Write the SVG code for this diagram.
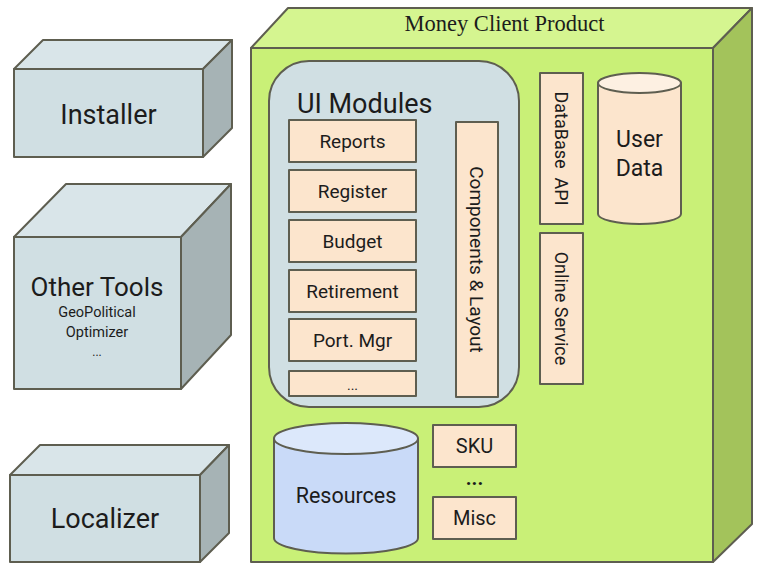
<svg xmlns="http://www.w3.org/2000/svg" width="762" height="575" viewBox="0 0 762 575">
<style>
.s{stroke:#5e5e50;stroke-width:2;stroke-linejoin:round}
.bf{fill:#d0dfe3}.bt{fill:#d9e5e9}.br{fill:#a6b3b5}
.gf{fill:#c9f077}.gt{fill:#d5f590}.gr{fill:#a3c35b}
.pe{fill:#fce5cd}
.t{font-family:Roboto,"Liberation Sans",sans-serif;fill:#1c1c1c;text-anchor:middle}
.m{font-size:19px}
</style>
<rect width="762" height="575" fill="#ffffff"/>
<g id="installer">
<polygon class="s bt" points="14,69 43,40 232,40 203,69"/>
<polygon class="s br" points="203,69 232,40 232,128 203,157"/>
<rect class="s bf" x="14" y="69" width="189" height="88"/>
<text class="t" x="108.5" y="124" font-size="27">Installer</text>
</g>
<g id="other-tools">
<polygon class="s bt" points="14,237 66,184 231,184 181,237"/>
<polygon class="s br" points="181,237 231,184 231,335 181,389"/>
<rect class="s bf" x="14" y="237" width="167" height="152"/>
<text class="t" x="97" y="296" font-size="26">Other Tools</text>
<text class="t" x="97" y="317" font-size="14.5">GeoPolitical</text>
<text class="t" x="97" y="337" font-size="14.5">Optimizer</text>
<text class="t" x="97" y="356" font-size="12">...</text>
</g>
<g id="localizer">
<polygon class="s bt" points="10,475 40,445 229,445 200,475"/>
<polygon class="s br" points="200,475 229,445 229,533 200,562"/>
<rect class="s bf" x="10" y="475" width="190" height="87"/>
<text class="t" x="105" y="528" font-size="27">Localizer</text>
</g>
<g id="money-client-product">
<polygon class="s gt" points="251,48 288,8 752,8 713,48"/>
<polygon class="s gr" points="713,48 752,8 752,524 713,562"/>
<rect class="s gf" x="251" y="48" width="462" height="514"/>
<text x="504.5" y="31" font-family="'Liberation Serif','Times New Roman',serif" font-size="22.5" fill="#1c1c1c" text-anchor="middle">Money Client Product</text>
</g>
<g id="ui-modules">
<rect class="s" x="269" y="61" width="250" height="346" rx="40" ry="40" fill="#d0dfe3"/>
<text class="t" x="297" y="113" font-size="27" text-anchor="start" style="text-anchor:start">UI Modules</text>
</g>
<g id="reports"><rect class="s pe" x="289" y="120" width="127" height="42"/><text class="t m" x="352.5" y="148">Reports</text></g>
<g id="register"><rect class="s pe" x="289" y="170" width="127" height="42"/><text class="t m" x="352.5" y="198">Register</text></g>
<g id="budget"><rect class="s pe" x="289" y="220" width="127" height="42"/><text class="t m" x="352.5" y="248">Budget</text></g>
<g id="retirement"><rect class="s pe" x="289" y="270" width="127" height="42"/><text class="t m" x="352.5" y="298">Retirement</text></g>
<g id="port-mgr"><rect class="s pe" x="289" y="319" width="127" height="42"/><text class="t m" x="352.5" y="347">Port. Mgr</text></g>
<g id="more-modules"><rect class="s pe" x="289" y="371" width="127" height="25"/><text class="t" x="352.5" y="390" font-size="14">...</text></g>
<g id="components-layout"><rect class="s pe" x="456" y="122" width="42" height="275"/><text class="t m" transform="translate(477,259.5) rotate(90)" y="7">Components &amp; Layout</text></g>
<g id="database-api"><rect class="s pe" x="540" y="73" width="43" height="151"/><text class="t" font-size="18" transform="translate(561.5,148.5) rotate(90)" y="6.5" xml:space="preserve" style="white-space:pre">DataBase  API</text></g>
<g id="online-service"><rect class="s pe" x="540" y="233" width="43" height="151"/><text class="t" font-size="18" transform="translate(561.5,308.5) rotate(90)" y="6.5">Online Service</text></g>
<g id="user-data">
<path class="s pe" d="M598,83 L598,214 A41.5,10 0 0 0 681,214 L681,83 Z"/>
<ellipse class="s" cx="639.5" cy="83" rx="41.5" ry="10" fill="#fdf0e2"/>
<text class="t" x="639.5" y="147" font-size="23">User</text>
<text class="t" x="639.5" y="176" font-size="23">Data</text>
</g>
<g id="resources">
<path class="s" d="M274,438.5 L274,538 A72,15.5 0 0 0 418,538 L418,438.5 Z" fill="#c9daf8"/>
<ellipse class="s" cx="346" cy="438.5" rx="72" ry="15.5" fill="#dce8fb"/>
<text class="t" x="346" y="503" font-size="21.5">Resources</text>
</g>
<g id="sku"><rect class="s pe" x="433" y="425" width="83" height="42"/><text class="t" x="474.5" y="453" font-size="20">SKU</text></g>
<g id="ellipsis"><text class="t" x="474.5" y="485" font-size="20" font-weight="bold">...</text></g>
<g id="misc"><rect class="s pe" x="433" y="497" width="83" height="42"/><text class="t" x="474.5" y="525" font-size="20">Misc</text></g>
<g id="connectors"></g>
</svg>
